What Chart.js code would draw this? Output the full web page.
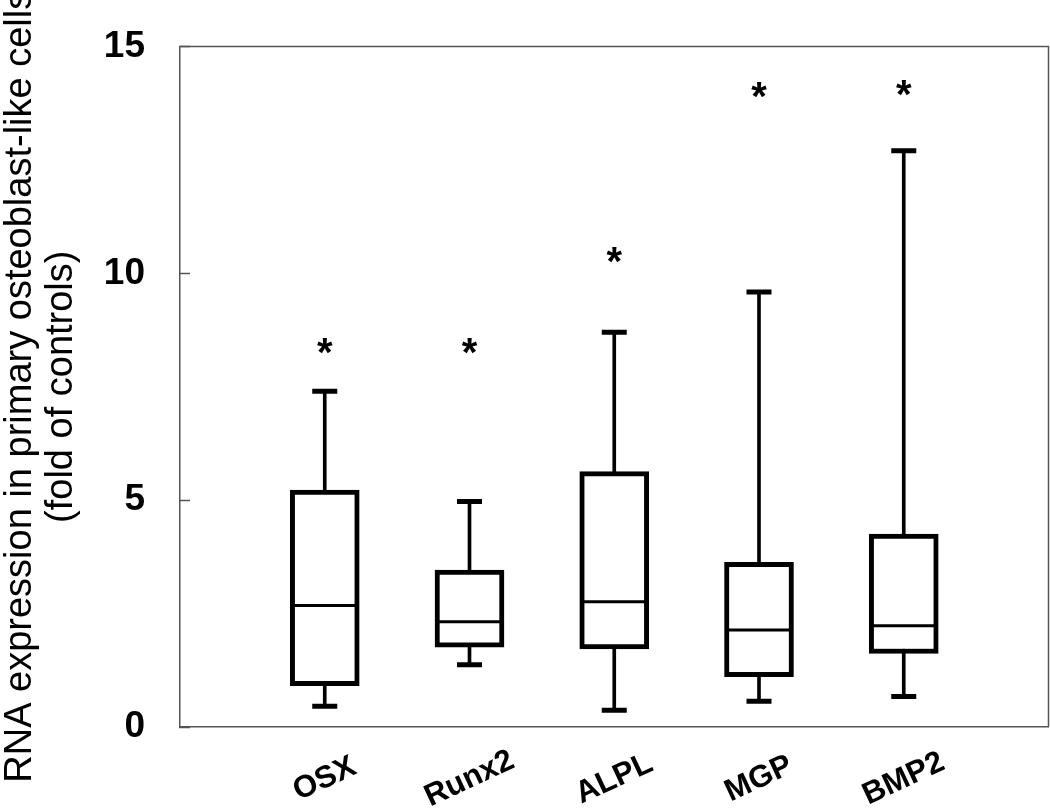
<!DOCTYPE html>
<html>
<head>
<meta charset="utf-8">
<script src="https://cdn.jsdelivr.net/npm/chart.js@4.4.1/dist/chart.umd.min.js"></script>
<style>
  html, body { margin: 0; padding: 0; background: #fff; }
  #wrap { width: 1050px; height: 811px; }
</style>
</head>
<body>
<div id="wrap"><canvas id="myChart"></canvas></div>
<script>
// values (fold of controls)
const genes = ['OSX', 'Runx2', 'ALPL', 'MGP', 'BMP2'];
const whiskerLow = [0.46, 1.37, 0.37, 0.57, 0.67];
const quartile1 = [0.91, 1.76, 1.72, 1.11, 1.62];
const medians = [2.68, 2.32, 2.76, 2.14, 2.23];
const quartile3 = [5.22, 3.46, 5.63, 3.63, 4.25];
const whiskerHigh = [7.40, 4.97, 8.70, 9.59, 12.70];
const starLevels = [8.47, 8.47, 10.46, 14.1, 14.15];
const yTicks = [0, 5, 10, 15];

const FONT = '"Liberation Sans", Arial, sans-serif';

function points(values) {
    return values.map((v, i) => ({ x: i + 1, y: v }));
}

// frame, rotated gene names and significance stars
const framePlugin = {
    id: 'frame',
    afterDatasetsDraw(chart) {
        const { ctx, chartArea: a, scales } = chart;
        ctx.save();
        ctx.strokeStyle = '#555';
        ctx.lineWidth = 1.5;
        ctx.beginPath();
        ctx.moveTo(a.left, a.top);
        ctx.lineTo(a.right, a.top);
        ctx.lineTo(a.right, a.bottom);
        ctx.stroke();

        ctx.fillStyle = '#000';
        ctx.font = 'bold 40px ' + FONT;
        ctx.textAlign = 'center';
        ctx.textBaseline = 'alphabetic';
        starLevels.forEach((v, i) => {
            ctx.fillText('*', scales.x.getPixelForValue(i + 1), scales.y.getPixelForValue(v) + 23);
        });

        ctx.font = 'bold 31px ' + FONT;
        ctx.textBaseline = 'middle';
        genes.forEach((g, i) => {
            ctx.save();
            ctx.translate(scales.x.getPixelForValue(i + 1), a.bottom + 52);
            ctx.rotate(-25 * Math.PI / 180);
            ctx.fillText(g, 0, 0);
            ctx.restore();
        });
        ctx.restore();
    }
};

const ctx = document.getElementById('myChart');

new Chart(ctx, {
    type: 'bar',
    data: {
        datasets: [
            {
                // boxes
                data: genes.map((g, i) => ({ x: i + 1, y: [quartile1[i], quartile3[i]] })),
                backgroundColor: '#fff',
                borderColor: '#000',
                borderWidth: 5,
                borderSkipped: false,
                barThickness: 69,
                grouped: false,
                order: 3
            },
            {
                // whisker stems
                data: genes.map((g, i) => ({ x: i + 1, y: [whiskerLow[i], whiskerHigh[i]] })),
                backgroundColor: '#000',
                borderWidth: 0,
                barThickness: 3,
                grouped: false,
                order: 4
            },
            {
                // whisker caps
                type: 'line',
                data: points(whiskerLow).concat(points(whiskerHigh)),
                showLine: false,
                pointStyle: 'line',
                pointRadius: 12.5,
                pointBorderWidth: 5,
                pointBorderColor: '#000',
                order: 1
            },
            {
                // medians
                type: 'line',
                data: points(medians),
                showLine: false,
                pointStyle: 'line',
                pointRadius: 34,
                pointBorderWidth: 3,
                pointBorderColor: '#000',
                order: 0
            }
        ]
    },
    options: {
        responsive: true,
        maintainAspectRatio: false,
        animation: false,
        events: [],
        layout: {
            autoPadding: false,
            padding: { top: 46.5, right: 1.5, left: 0, bottom: 0 }
        },
        plugins: {
            legend: { display: false },
            tooltip: { enabled: false }
        },
        scales: {
            x: {
                type: 'linear',
                min: 0,
                max: 6,
                offset: false,
                afterFit: (scale) => {
                    scale.height = 84;
                    scale.paddingLeft = 0;
                    scale.paddingRight = 0;
                },
                afterBuildTicks: (scale) => {
                    scale.ticks = genes.map((g, i) => ({ value: i + 1 }));
                },
                grid: { display: false },
                border: { display: true, color: '#555', width: 1.5 },
                ticks: { display: false }
            },
            y: {
                min: 0,
                max: 15,
                afterFit: (scale) => {
                    scale.width = 180;
                    scale.paddingTop = 0;
                    scale.paddingBottom = 0;
                },
                afterBuildTicks: (scale) => {
                    scale.ticks = yTicks.map(v => ({ value: v }));
                },
                grid: {
                    drawOnChartArea: false,
                    drawTicks: true,
                    tickLength: -10,
                    tickColor: '#555',
                    tickWidth: 1.5
                },
                border: { display: true, color: '#555', width: 1.5 },
                ticks: {
                    padding: 45,
                    color: '#000',
                    font: { family: FONT, size: 37, weight: 'bold' }
                },
                title: {
                    display: true,
                    text: ['RNA expression in primary osteoblast-like cells', '(fold of controls)'],
                    color: '#000',
                    padding: 0,
                    font: { family: FONT, size: 38, lineHeight: 1.08 }
                }
            }
        }
    },
    plugins: [framePlugin]
});
</script>
</body>
</html>
